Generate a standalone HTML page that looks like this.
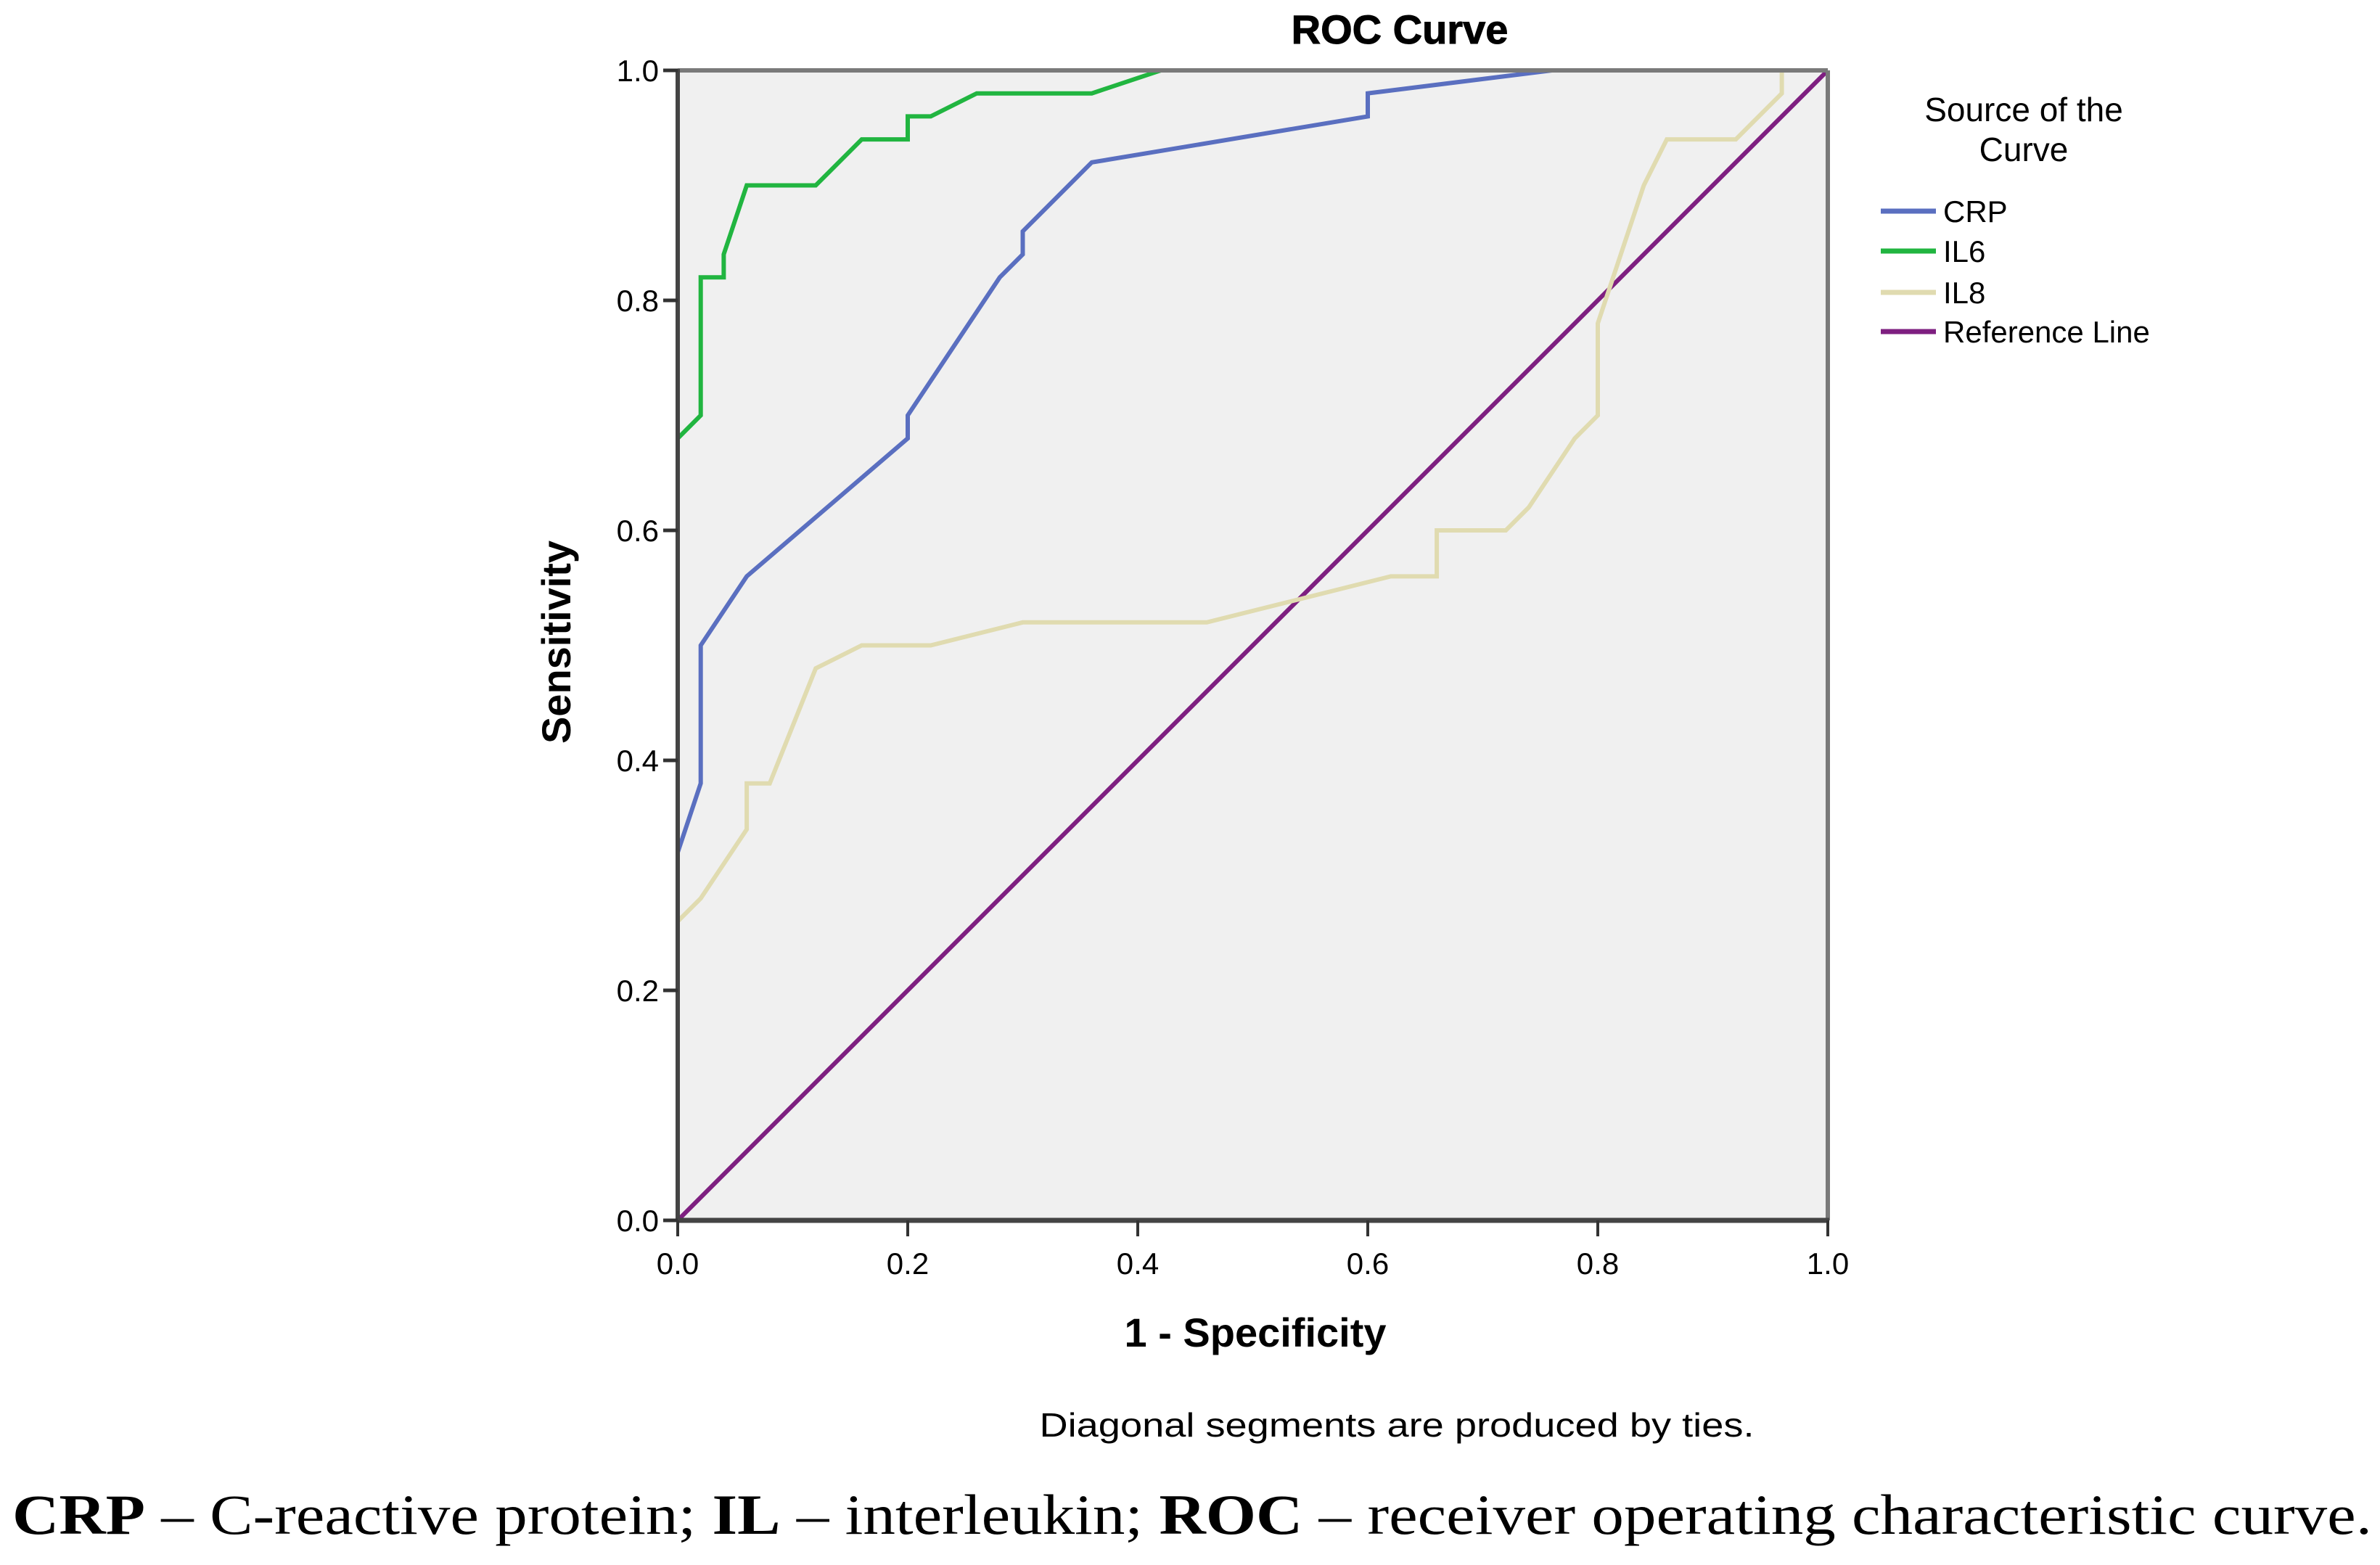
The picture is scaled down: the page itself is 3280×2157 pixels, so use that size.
<!DOCTYPE html>
<html><head><meta charset="utf-8"><style>
html,body{margin:0;padding:0;background:#fff;}
svg{display:block;}
</style></head><body>
<svg id="chart" width="3280" height="2157" viewBox="0 0 3280 2157" xmlns="http://www.w3.org/2000/svg">
<rect x="0" y="0" width="3280" height="2157" fill="#fff"/>
<rect x="934" y="97" width="1585" height="1585" fill="#f0f0f0"/>
<g id="marks"></g>
<line x1="934" y1="97" x2="2519" y2="97" stroke="#7a7a7a" stroke-width="6"/>
<line x1="2519" y1="97" x2="2519" y2="1682" stroke="#7a7a7a" stroke-width="6"/>
<line x1="934" y1="95" x2="934" y2="1684" stroke="#444" stroke-width="6"/>
<line x1="932" y1="1682" x2="2521" y2="1682" stroke="#444" stroke-width="7"/>
<g id="axes" font-family="'Liberation Sans', sans-serif" fill="#000"></g>
<text x="1929" y="60" text-anchor="middle" font-family="'Liberation Sans', sans-serif" font-weight="bold" font-size="56" stroke="#000" stroke-width="1">ROC Curve</text>
<text transform="translate(786,885) rotate(-90)" text-anchor="middle" font-family="'Liberation Sans', sans-serif" font-weight="bold" font-size="56">Sensitivity</text>
<text x="1730" y="1856" text-anchor="middle" font-family="'Liberation Sans', sans-serif" font-weight="bold" font-size="56">1 - Specificity</text>
<text x="1925" y="1980" text-anchor="middle" font-family="'Liberation Sans', sans-serif" font-size="46" textLength="985" lengthAdjust="spacingAndGlyphs">Diagonal segments are produced by ties.</text>
<text x="17" y="2114" font-family="'Liberation Serif', serif" font-size="78" textLength="3252" lengthAdjust="spacingAndGlyphs"><tspan font-weight="bold">CRP</tspan> – C-reactive protein; <tspan font-weight="bold">IL</tspan> – interleukin; <tspan font-weight="bold">ROC</tspan> – receiver operating characteristic curve.</text>
<g font-family="'Liberation Sans', sans-serif" font-size="46">
<text x="2789" y="167" text-anchor="middle">Source of the</text>
<text x="2789" y="222" text-anchor="middle">Curve</text>
<g id="legend-items"></g>
</g>
</svg>
<script>
const xTicks = [0.0, 0.2, 0.4, 0.6, 0.8, 1.0];
const yTicks = [0.0, 0.2, 0.4, 0.6, 0.8, 1.0];
const seriesNames = ["CRP", "IL6", "IL8", "Reference Line"];
const crpX = [0,0,0.02,0.02,0.06,0.2,0.2,0.28,0.3,0.3,0.36,0.6,0.6,0.76,1];
const crpY = [0,0.32,0.38,0.50,0.56,0.68,0.70,0.82,0.84,0.86,0.92,0.96,0.98,1.0,1];
const il6X = [0,0,0.02,0.02,0.04,0.04,0.06,0.12,0.16,0.2,0.2,0.22,0.26,0.36,0.42,1];
const il6Y = [0,0.68,0.70,0.82,0.82,0.84,0.90,0.90,0.94,0.94,0.96,0.96,0.98,0.98,1.0,1];
const il8X = [0,0,0.02,0.06,0.06,0.08,0.12,0.16,0.22,0.30,0.46,0.54,0.62,0.66,0.66,0.72,0.74,0.78,0.80,0.80,0.84,0.86,0.92,0.96,0.96,1];
const il8Y = [0,0.26,0.28,0.34,0.38,0.38,0.48,0.50,0.50,0.52,0.52,0.54,0.56,0.56,0.60,0.60,0.62,0.68,0.70,0.78,0.90,0.94,0.94,0.98,1.0,1];
const refX = [0,1];
const refY = [0,1];

const NS = "http://www.w3.org/2000/svg";
const X0 = 934, X1 = 2519, Y0 = 1682, Y1 = 97;
function sx(v){ return X0 + v*(X1-X0); }
function sy(v){ return Y0 - v*(Y0-Y1); }

const axes = document.getElementById('axes');
xTicks.forEach(function(t){
  const l = document.createElementNS(NS,'line');
  l.setAttribute('x1', sx(t)); l.setAttribute('x2', sx(t));
  l.setAttribute('y1', Y0); l.setAttribute('y2', Y0+22);
  l.setAttribute('stroke','#333'); l.setAttribute('stroke-width','4');
  
  
  axes.appendChild(l);
  const tx = document.createElementNS(NS,'text');
  tx.setAttribute('x', sx(t)); tx.setAttribute('y', Y0+74);
  tx.setAttribute('text-anchor','middle'); tx.setAttribute('font-size','42');
  tx.textContent = t.toFixed(1);
  
  
  axes.appendChild(tx);
});
yTicks.forEach(function(t){
  const l = document.createElementNS(NS,'line');
  l.setAttribute('x1', X0-20); l.setAttribute('x2', X0);
  l.setAttribute('y1', sy(t)); l.setAttribute('y2', sy(t));
  l.setAttribute('stroke','#333'); l.setAttribute('stroke-width','5');
  
  
  axes.appendChild(l);
  const tx = document.createElementNS(NS,'text');
  tx.setAttribute('x', X0-26); tx.setAttribute('y', sy(t)+15);
  tx.setAttribute('text-anchor','end'); tx.setAttribute('font-size','42');
  tx.textContent = t.toFixed(1);
  
  
  axes.appendChild(tx);
});

const marks = document.getElementById('marks');
const series = [
  {xs: refX, ys: refY, c: '#7e1f80', n: 'reference-line'},
  {xs: il8X, ys: il8Y, c: '#e0dbb0', n: 'il8-curve'},
  {xs: crpX, ys: crpY, c: '#5a6fc0', n: 'crp-curve'},
  {xs: il6X, ys: il6Y, c: '#21b540', n: 'il6-curve'}
];
series.forEach(function(s){
  const p = document.createElementNS(NS,'polyline');
  p.setAttribute('points', s.xs.map(function(x,i){ return sx(x)+','+sy(s.ys[i]); }).join(' '));
  p.setAttribute('fill','none'); p.setAttribute('stroke', s.c); p.setAttribute('stroke-width','6');
  
  
  marks.appendChild(p);
});

const legendColors = ['#5a6fc0', '#21b540', '#e0dbb0', '#7e1f80'];
const legendY = [291, 346, 403, 457];
const lg = document.getElementById('legend-items');
seriesNames.forEach(function(n,i){
  const l = document.createElementNS(NS,'line');
  l.setAttribute('x1', 2592); l.setAttribute('x2', 2668);
  l.setAttribute('y1', legendY[i]); l.setAttribute('y2', legendY[i]);
  l.setAttribute('stroke', legendColors[i]); l.setAttribute('stroke-width','7');
  
  
  lg.appendChild(l);
  const t = document.createElementNS(NS,'text');
  t.setAttribute('x', 2678); t.setAttribute('y', legendY[i]+15);
  t.setAttribute('font-size','42');
  t.textContent = n;
  
  
  lg.appendChild(t);
});
</script>
</body></html>
